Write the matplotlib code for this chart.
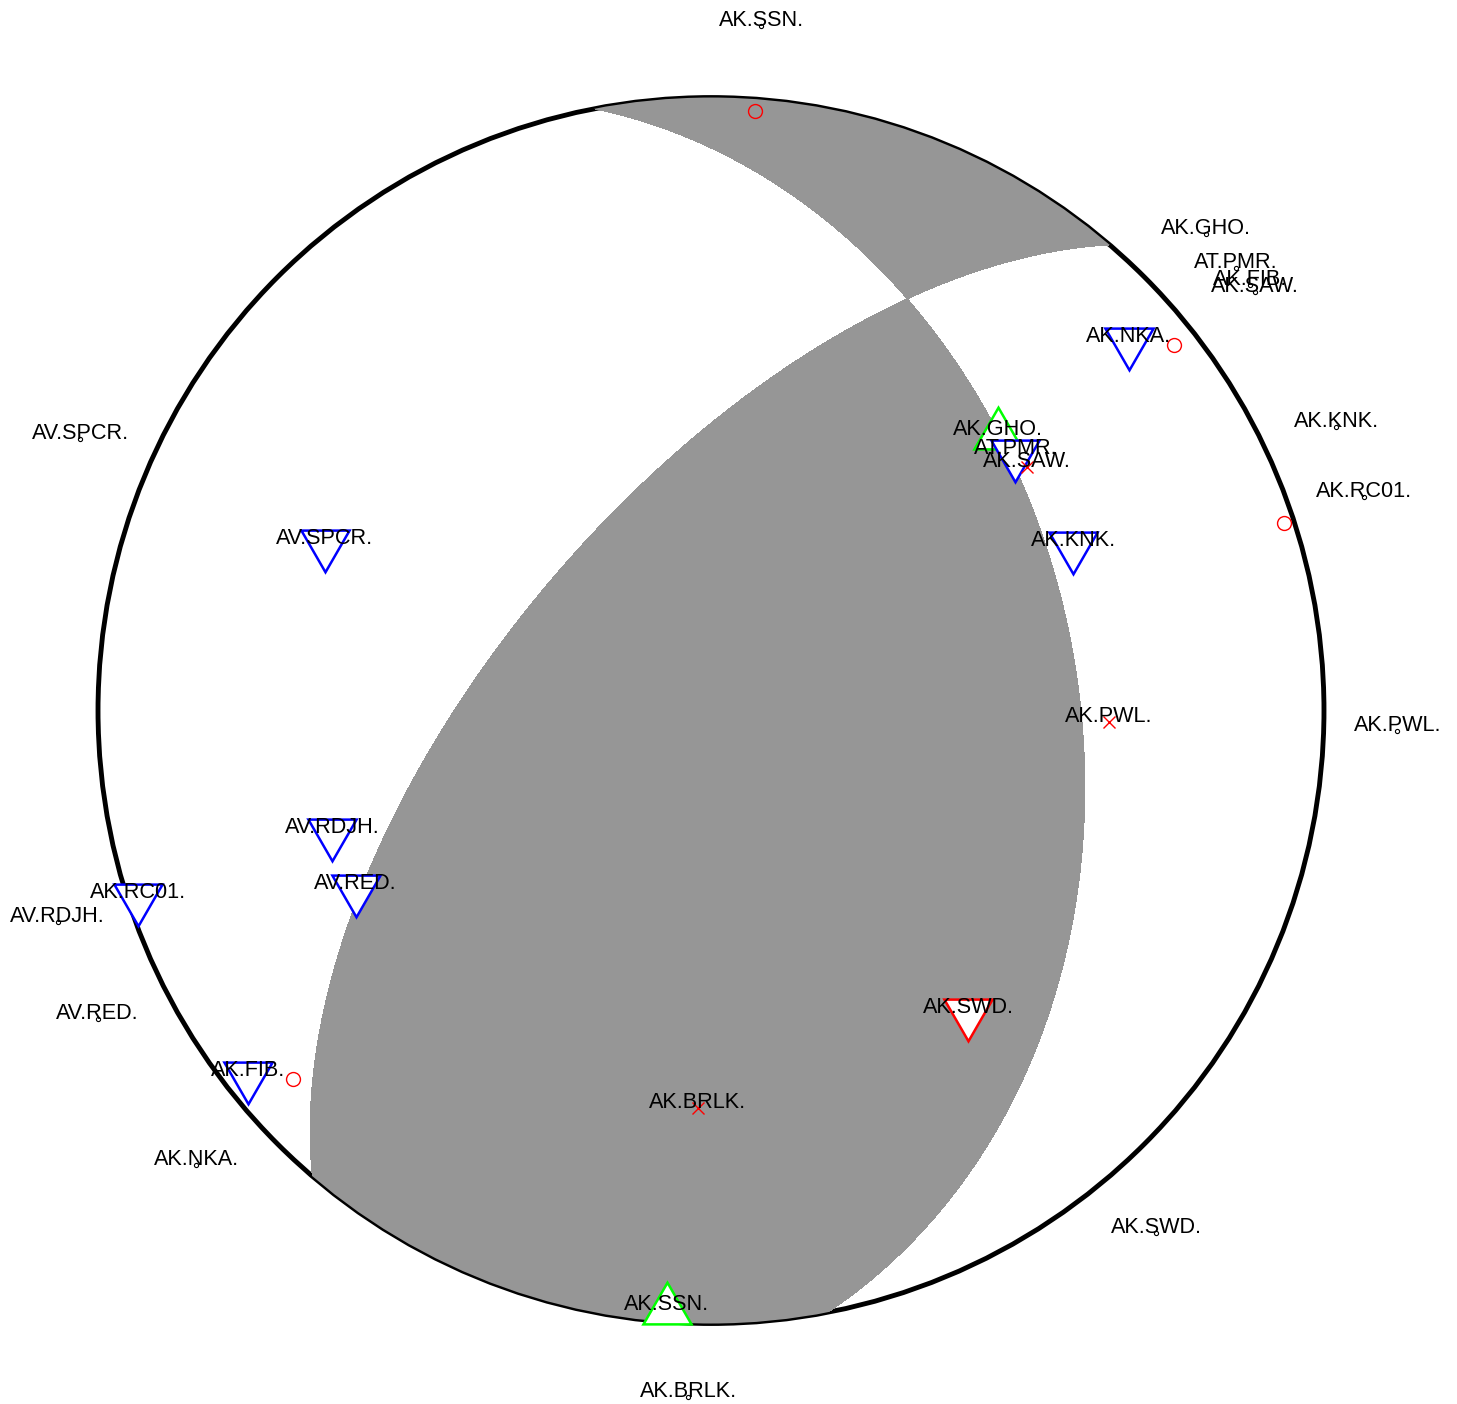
#!/usr/bin/env python3
# -*- coding: utf-8 -*-
"""First-motion polarities over a double-couple beachball (lower hemisphere, equal area)."""

import numpy as np
import matplotlib

matplotlib.use("Agg")
import matplotlib.pyplot as plt
from matplotlib.patches import Circle

plt.rcParams["font.family"] = ["Liberation Sans", "DejaVu Sans"]

# nodal plane 1 of the focal mechanism
strike, dip, rake = 349.0, 40.0, 46.0

stations = ["AK.SSN.", "AK.GHO.", "AT.PMR.", "AK.FIB.", "AK.SAW.", "AK.NKA.", "AK.KNK.",
            "AK.RC01.", "AK.PWL.", "AK.SWD.", "AK.BRLK.", "AV.RED.", "AV.RDJH.", "AV.SPCR."]
azimuth = [4.2, 46.1, 49.9, 51.7, 52.4, 228.6, 65.6, 71.9, 91.7, 139.6, 181.9, 243.3, 252.1, 293.3]
radius = [0.981, 0.649, 0.649, 0.963, 0.650, 0.909, 0.649, 0.983, 0.649, 0.648, 0.649, 0.649,
          0.649, 0.686]
upgoing = [True, False, False, True, False, True, False, True, False, False, False, False,
           False, False]
polarity = ["U", "U", "D", "D", None, "D", "D", "D", None, "D", None, "D", "D", "D"]
misfit = [False, False, False, False, False, False, False, False, False, True, False, False,
          False, False]
label_radius = 1.12


def radiation(x, y):
    r = np.hypot(x, y)
    theta = 2 * np.arcsin(np.clip(r / np.sqrt(2), 0, 1))
    az = np.arctan2(x, y)
    v = np.stack([np.sin(theta) * np.cos(az), np.sin(theta) * np.sin(az), np.cos(theta)])
    phi, d, lam = np.radians([strike, dip, rake])
    n = np.array([-np.sin(d) * np.sin(phi), np.sin(d) * np.cos(phi), -np.cos(d)])
    u = np.array([np.cos(lam) * np.cos(phi) + np.cos(d) * np.sin(lam) * np.sin(phi),
                  np.cos(lam) * np.sin(phi) - np.cos(d) * np.sin(lam) * np.cos(phi),
                  -np.sin(lam) * np.sin(d)])
    return np.tensordot(n, v, 1) * np.tensordot(u, v, 1)


fig = plt.figure(figsize=(14.57, 14.04), dpi=100)
ax = fig.add_axes([0, 0, 1, 1])
ax.set_aspect("equal")
ax.set_xlim(-1.1599, 1.2170)
ax.set_ylim(-1.1313, 1.1591)
ax.set_axis_off()

ax.add_patch(Circle((0, 0), 1, facecolor="white", edgecolor="black", linewidth=3.5, zorder=1))

g = np.linspace(-1.02, 1.02, 1601)
X, Y = np.meshgrid(g, g)
Z = radiation(X, Y)
cs = ax.contourf(X, Y, Z, levels=[0, Z.max()], colors=["#969696"], zorder=1.5)
cs.set_clip_path(Circle((0, 0), 1, transform=ax.transData))

for name, az, r, up, pol, bad in zip(stations, azimuth, radius, upgoing, polarity, misfit):
    a = np.radians(az + 180 if up else az)
    x, y = r * np.sin(a), r * np.cos(a)
    if pol is None:
        ax.plot(x, y, "x", color="red", ms=9, mew=1)
    else:
        marker = (3, 0, 0) if pol == "U" else (3, 0, 180)
        color = "red" if bad else ("#00ff00" if pol == "U" else "blue")
        ax.plot(x, y, marker=marker, ms=40, mfc="white", mec=color, mew=1.8, ls="none")
    ax.text(x, y, name, ha="center", va="baseline", fontsize=15.6)

    b = np.radians(az)
    if up:
        ax.plot(r * np.sin(b), r * np.cos(b), "o", mfc="none", mec="red", ms=10, mew=1)
    lx, ly = label_radius * np.sin(b), label_radius * np.cos(b)
    ax.plot(lx, ly, "o", mfc="none", mec="black", ms=3, mew=0.8)
    ax.text(lx, ly, name, ha="center", va="baseline", fontsize=15.6)

fig.savefig("out.png", dpi=100, facecolor="white")
plt.close(fig)
